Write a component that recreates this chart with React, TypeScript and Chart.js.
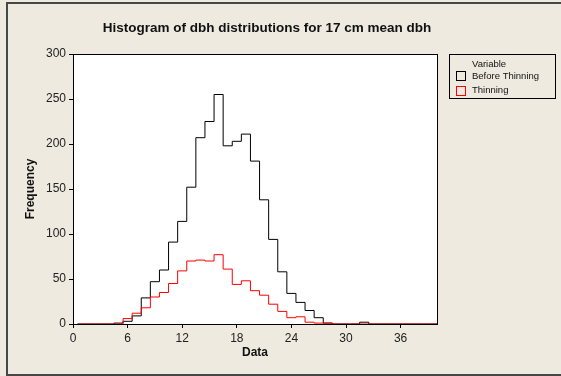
import { useEffect, useRef } from 'react';
import { Chart, registerables } from 'chart.js';

Chart.register(...registerables);

// Histogram bins (1 cm wide, centred on whole cm values)
const binCenters = [
  1, 2, 3, 4, 5, 6, 7, 8, 9, 10, 11, 12, 13, 14, 15, 16, 17, 18, 19, 20,
  21, 22, 23, 24, 25, 26, 27, 28, 29, 30, 31, 32, 33, 34, 35, 36, 37, 38, 39, 40,
];
const beforeThinning = [
  0, 0, 0, 0, 1, 3, 9, 29, 47, 60, 91, 114, 152, 207, 225, 255, 198, 203, 211, 181,
  138, 94, 58, 34, 24, 15, 7, 1, 0, 0, 0, 2, 0, 0, 0, 0, 0, 0, 0, 0,
];
const thinning = [
  0, 0, 0, 0, 0, 6, 12, 18, 30, 35, 45, 59, 70, 71, 70, 77, 61, 44, 48, 37,
  32, 22, 14, 7, 8, 2, 1, 1, 0, 0, 0, 0, 0, 0, 0, 0, 0, 0, 0, 0,
];
const xTickValues = [0, 6, 12, 18, 24, 30, 36];
const yTickValues = [0, 50, 100, 150, 200, 250, 300];
const seriesNames = ['Before Thinning', 'Thinning'];
const seriesColors = ['#000000', '#ff0000'];
const chartTitle = 'Histogram of dbh distributions for 17 cm mean dbh';
const legendTitle = 'Variable';
const xTitle = 'Data';
const yTitle = 'Frequency';

const BG = '#eeeae0';
const FONT = "'Liberation Sans', Arial, sans-serif";

// Outline of a histogram: a point on each bin's left edge, closed at the last right edge
function outline(counts: number[]) {
  const pts = binCenters.map((c, i) => ({ x: c - 0.5, y: counts[i] }));
  pts.push({ x: binCenters[binCenters.length - 1] + 0.5, y: 0 });
  return pts;
}

const decor = {
  id: 'decor',
  beforeDraw(chart: any) {
    const { ctx, chartArea: a, width, height } = chart;
    ctx.save();
    ctx.fillStyle = BG;
    ctx.fillRect(0, 0, width, height);
    ctx.fillStyle = '#ffffff';
    ctx.fillRect(a.left, a.top, a.right - a.left, a.bottom - a.top);
    // outer graph frame
    ctx.strokeStyle = '#474747';
    ctx.lineWidth = 2;
    ctx.strokeRect(7, 3, width + 20, 372);
    ctx.restore();
  },
  afterDraw(chart: any) {
    const { ctx, chartArea: a } = chart;
    ctx.save();
    // data region frame
    ctx.strokeStyle = '#000000';
    ctx.lineWidth = 1;
    ctx.strokeRect(a.left + 0.5, a.top + 0.5, a.right - a.left, a.bottom - a.top);

    // title
    ctx.fillStyle = '#111111';
    ctx.font = `bold 13.5px ${FONT}`;
    ctx.textAlign = 'center';
    ctx.textBaseline = 'middle';
    ctx.fillText(chartTitle, 267, 28);

    // legend
    const lx = 449, ly = 54, lw = 106, lh = 44;
    ctx.strokeStyle = '#000000';
    ctx.strokeRect(lx + 0.5, ly + 0.5, lw, lh);
    ctx.font = `9.5px ${FONT}`;
    ctx.textAlign = 'left';
    ctx.fillStyle = '#111111';
    ctx.fillText(legendTitle, 472, 64);
    seriesNames.forEach((name, i) => {
      const y = 76 + i * 14.5;
      ctx.strokeStyle = seriesColors[i];
      ctx.strokeRect(456.5, Math.round(y - 5) + 0.5, 9, 9);
      ctx.fillStyle = '#111111';
      ctx.fillText(name, 472, y);
    });
    ctx.restore();
  },
};

export default function App() {
  const ref = useRef<HTMLCanvasElement>(null);

  useEffect(() => {
    document.body.style.margin = '0';
    const canvas = ref.current!;
    const tickFont = { family: FONT, size: 12 };
    const titleFont = { family: FONT, size: 12, weight: 'bold' as const };
    const chart = new Chart(canvas, {
      type: 'line',
      data: {
        datasets: [
          {
            label: seriesNames[0],
            data: outline(beforeThinning),
            borderColor: seriesColors[0],
            borderWidth: 1,
            pointRadius: 0,
            stepped: true,
            fill: false,
            order: 1,
            clip: { left: 1, top: 1, right: 0, bottom: 1 },
          },
          {
            label: seriesNames[1],
            data: outline(thinning),
            borderColor: seriesColors[1],
            borderWidth: 1,
            pointRadius: 0,
            stepped: true,
            fill: false,
            order: 0,
            clip: { left: 1, top: 1, right: 0, bottom: 1 },
          },
        ],
      },
      options: {
        animation: false,
        responsive: false,
        devicePixelRatio: 1,
        layout: { padding: { top: 54, right: 124, left: 0, bottom: 0 } },
        plugins: { legend: { display: false }, tooltip: { enabled: false } },
        scales: {
          x: {
            type: 'linear',
            min: 0,
            max: 40,
            afterBuildTicks: (s: any) => {
              s.ticks = xTickValues.map((v) => ({ value: v }));
            },
            afterFit: (s: any) => {
              s.height = 52;
            },
            grid: { display: true, drawOnChartArea: false, tickLength: 4, tickColor: '#000000' },
            border: { display: false },
            ticks: { font: tickFont, color: '#222222', padding: 3, maxRotation: 0, autoSkip: false },
            title: { display: true, text: xTitle, font: titleFont, color: '#111111', padding: { top: 0, bottom: 16 } },
          },
          y: {
            type: 'linear',
            min: 0,
            max: 300,
            afterBuildTicks: (s: any) => {
              s.ticks = yTickValues.map((v) => ({ value: v }));
            },
            afterFit: (s: any) => {
              s.width = 73;
            },
            grid: { display: true, drawOnChartArea: false, tickLength: 4, tickColor: '#000000' },
            border: { display: false },
            ticks: { font: tickFont, color: '#222222', padding: 3, autoSkip: false },
            title: { display: true, text: yTitle, font: titleFont, color: '#111111', padding: { top: 23, bottom: 0 } },
          },
        },
      },
      plugins: [decor],
    });
    return () => chart.destroy();
  }, []);

  return <canvas ref={ref} width={561} height={376} style={{ display: 'block', width: 561, height: 376 }} />;
}
